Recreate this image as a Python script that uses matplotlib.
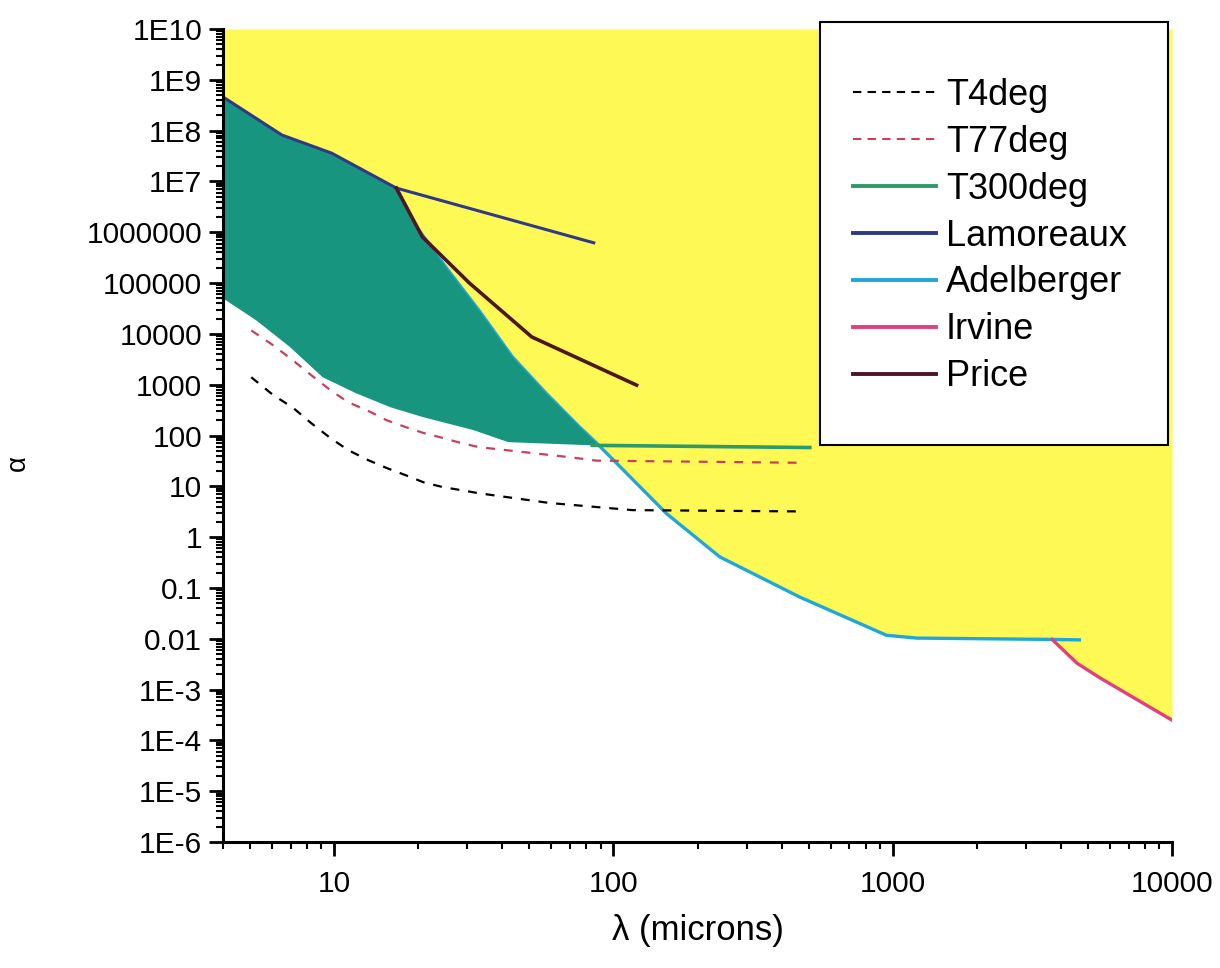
import numpy as np
import matplotlib
matplotlib.use("Agg")
import matplotlib.pyplot as plt
from matplotlib.lines import Line2D
from matplotlib.patches import Rectangle
from matplotlib.ticker import FixedLocator, FixedFormatter, LogLocator, NullFormatter

plt.rcParams["font.family"] = ["Liberation Sans", "DejaVu Sans"]

# --- data (lambda in microns, alpha) ---
t4_x = [5.05, 6.04, 7.13, 8.28, 9.7, 11.2, 13.2, 15.4, 18, 20.9, 24.6, 28.5, 33, 59, 117, 480]
t4_y = [1400, 630, 350, 175, 89, 52, 33, 23, 16.6, 12, 9.6, 8.4, 7.3, 4.7, 3.4, 3.2]

t77_x = [5.05, 6.04, 7.13, 8.28, 9.7, 11.2, 13.5, 15.4, 18, 20.9, 24.6, 28.5, 33, 71, 87, 480]
t77_y = [11700, 6000, 3000, 1540, 780, 455, 290, 200, 147, 112, 89, 71, 59, 37, 32, 29]

t300_x = [4.0, 5.25, 6.95, 9.1, 12, 15.9, 20.8, 31.5, 42, 84, 505]
t300_y = [5.0e4, 1.86e4, 5.5e3, 1.4e3, 675, 360, 230, 128, 74, 64, 58]

lam_x = [4.0, 6.5, 9.8, 16.7, 85]
lam_y = [4.6e8, 8.2e7, 3.6e7, 7.4e6, 6.2e5]

adel_x = [16.7, 19, 25.2, 33, 43.5, 57.5, 75.5, 87, 94.5, 155, 240, 465, 950, 1220, 3720, 4660]
adel_y = [7.4e6, 1.7e6, 2.0e5, 2.9e4, 3.5e3, 670, 148, 71, 45, 2.9, 0.41, 0.066, 0.0117, 0.0103, 0.0097, 0.0095]

irv_x = [3720, 4570, 5520, 10000]
irv_y = [0.0097, 3.3e-3, 1.7e-3, 2.5e-4]

price_x = [16.7, 20.7, 30.5, 51, 121]
price_y = [7.4e6, 8.1e5, 1.0e5, 8.7e3, 980]

y_ticks = [1e-6, 1e-5, 1e-4, 1e-3, 1e-2, 1e-1, 1, 10, 100, 1e3, 1e4, 1e5, 1e6, 1e7, 1e8, 1e9, 1e10]
y_labels = ["1E-6", "1E-5", "1E-4", "1E-3", "0.01", "0.1", "1", "10", "100", "1000",
            "10000", "100000", "1000000", "1E7", "1E8", "1E9", "1E10"]
x_ticks = [10, 100, 1000, 10000]
x_labels = ["10", "100", "1000", "10000"]

YELLOW = "#FFF955"
TEAL = "#18957F"
COLORS = {
    "T4deg": "black",
    "T77deg": "#C8405C",
    "T300deg": "#2E9A6A",
    "Lamoreaux": "#2E3A87",
    "Adelberger": "#1FA6DD",
    "Irvine": "#E0407E",
    "Price": "#4B1626",
}

fig = plt.figure(figsize=(12.2, 9.68), dpi=100)
ax = fig.add_axes([223 / 1220, 1 - 842 / 968, (1172 - 223) / 1220, (842 - 29) / 968])
ax.set_xscale("log")
ax.set_yscale("log")
ax.set_xlim(4, 10000)
ax.set_ylim(1e-6, 1e10)

# excluded region (yellow): above Lamoreaux -> Adelberger -> Irvine
env_x = np.concatenate([lam_x[:4], adel_x[1:14], irv_x])
env_y = np.concatenate([lam_y[:4], adel_y[1:14], irv_y])
ax.fill_between(env_x, env_y, 1e10, color=YELLOW, lw=0, zorder=1)

# Adelberger line under the teal patch
ax.plot(adel_x, adel_y, color=COLORS["Adelberger"], lw=2.4, zorder=2)

# teal region between T300 curve and the experimental limits
poly_x = np.concatenate([t300_x[:10], adel_x[:8][::-1], lam_x[:3][::-1]])
poly_y = np.concatenate([t300_y[:10], adel_y[:8][::-1], lam_y[:3][::-1]])
ax.fill(poly_x, poly_y, color=TEAL, lw=0, zorder=3)

ax.plot(t4_x, t4_y, color=COLORS["T4deg"], lw=1.6, dashes=(4, 4), zorder=4)
ax.plot(t77_x, t77_y, color=COLORS["T77deg"], lw=1.6, dashes=(4, 4), zorder=4)
ax.plot(t300_x[9:], t300_y[9:], color=COLORS["T300deg"], lw=2.6, zorder=4)
ax.plot(lam_x, lam_y, color=COLORS["Lamoreaux"], lw=2.2, zorder=4)
ax.plot(irv_x, irv_y, color=COLORS["Irvine"], lw=2.4, zorder=4)
ax.plot(price_x, price_y, color=COLORS["Price"], lw=2.6, zorder=4)

# axes styling
for side in ["top", "right"]:
    ax.spines[side].set_visible(False)
for side in ["left", "bottom"]:
    ax.spines[side].set_linewidth(2.2)
    ax.spines[side].set_zorder(6)

ax.yaxis.set_major_locator(FixedLocator(y_ticks))
ax.yaxis.set_major_formatter(FixedFormatter(y_labels))
ax.xaxis.set_major_locator(FixedLocator(x_ticks))
ax.xaxis.set_major_formatter(FixedFormatter(x_labels))
ax.yaxis.set_minor_locator(LogLocator(base=10, subs=np.arange(2, 10), numticks=100))
ax.xaxis.set_minor_locator(LogLocator(base=10, subs=np.arange(2, 10), numticks=100))
ax.yaxis.set_minor_formatter(NullFormatter())
ax.xaxis.set_minor_formatter(NullFormatter())
ax.tick_params(which="major", direction="out", length=10, width=2, labelsize=21.5)
ax.tick_params(axis="y", which="major", pad=5)
ax.tick_params(axis="x", which="major", pad=10)
ax.tick_params(which="minor", direction="out", length=5, width=1.5)

ax.set_xlabel("λ (microns)", fontsize=25, labelpad=12)
fig.text(18 / 1220, 1 - 463 / 968, "α", fontsize=20, rotation=90, ha="center", va="center")

# legend box
ax.add_patch(Rectangle((820 / 1220, 1 - 445 / 968), 348 / 1220, 423 / 968,
                       transform=fig.transFigure, facecolor="white",
                       edgecolor="black", lw=1.5, zorder=7, clip_on=False))
handles = [
    Line2D([], [], color=COLORS["T4deg"], lw=1.5, dashes=(4, 3)),
    Line2D([], [], color=COLORS["T77deg"], lw=1.5, dashes=(4, 3)),
    Line2D([], [], color=COLORS["T300deg"], lw=2.8),
    Line2D([], [], color=COLORS["Lamoreaux"], lw=2.8),
    Line2D([], [], color=COLORS["Adelberger"], lw=2.8),
    Line2D([], [], color=COLORS["Irvine"], lw=2.8),
    Line2D([], [], color=COLORS["Price"], lw=2.8),
]
labels = ["T4deg", "T77deg", "T300deg", "Lamoreaux", "Adelberger", "Irvine", "Price"]
leg = ax.legend(handles, labels, loc="center", bbox_to_anchor=(990 / 1220, 1 - 236 / 968),
                bbox_transform=fig.transFigure, frameon=False, fontsize=26,
                handlelength=2.3, handletextpad=0.28, labelspacing=0.33, borderpad=0)
leg.set_zorder(8)

fig.savefig("out.png", dpi=100)
